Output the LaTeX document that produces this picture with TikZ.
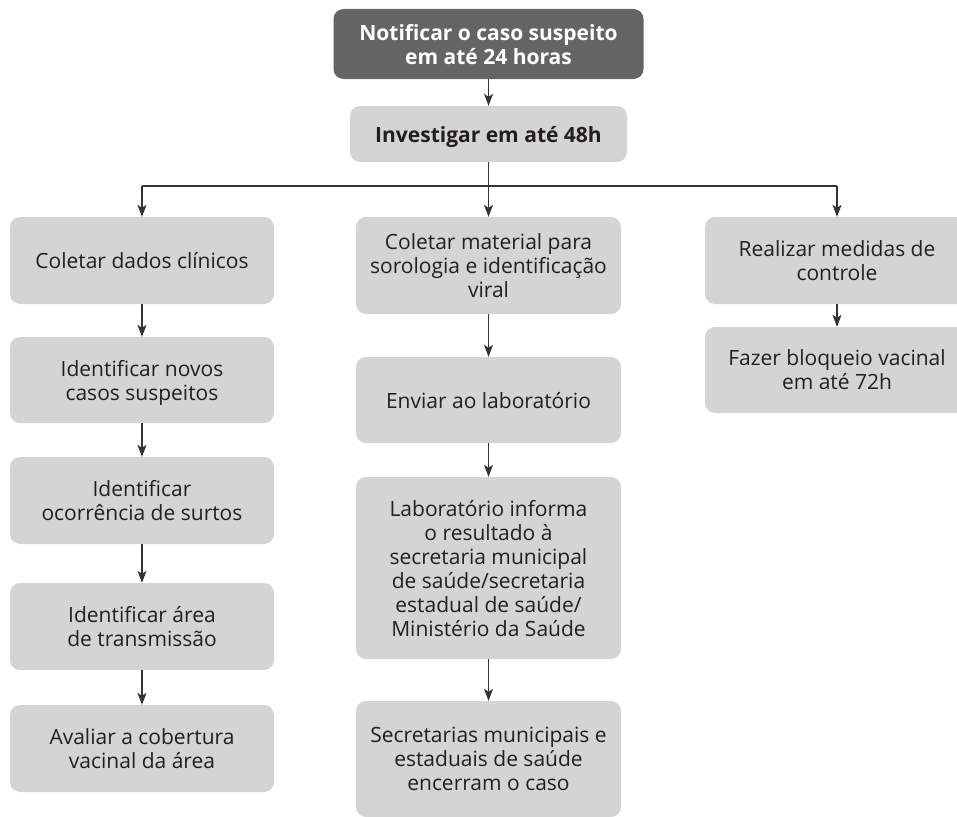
\documentclass[tikz,border=0pt]{standalone}
\usepackage{fontspec}
\setmainfont{Open Sans}
\usetikzlibrary{arrows.meta}

\definecolor{boxgray}{HTML}{D4D4D4}
\definecolor{topgray}{HTML}{646464}
\definecolor{textdark}{HTML}{231F20}
\definecolor{linegray}{HTML}{333333}

\begin{document}
\begin{tikzpicture}[
            x = 1pt, y = -1pt,
            every node/.style={text depth=0pt, align=center, font=\fontsize{21}{24}\selectfont},
            stepbox/.style={fill=boxgray, text=textdark, rounded corners=10pt, inner sep=0pt,
                minimum width=264pt},
            topbox/.style={stepbox, fill=topgray, text=white, font=\bfseries\fontsize{21}{24}\selectfont},
            line/.style={draw=linegray, line width=1.2pt},
            arrow/.style={line, -{Stealth[length=12pt, width=9pt, inset=3pt]}},
            ]

        \useasboundingbox (0, 0) rectangle (957, 816);
        \clip (0, 0) rectangle (957, 816);

        \node[topbox, minimum width=310pt, minimum height=70pt] (notificar) at (488.5, 44) {Notificar o caso suspeito\\em até 24 horas};
        \node[stepbox, minimum width=277pt, minimum height=56pt, font=\bfseries\fontsize{21}{24}\selectfont] (investigar) at (488.5, 134) {Investigar em até 48h};

        % left column
        \node[stepbox, minimum height=87pt] (dados) at (142, 260.5) {Coletar dados clínicos};
        \node[stepbox, minimum height=86pt] (novos) at (142, 380) {Identificar novos\\casos suspeitos};
        \node[stepbox, minimum height=87pt] (surtos) at (142, 500.5) {Identificar\\ocorrência de surtos};
        \node[stepbox, minimum height=87pt] (area) at (142, 626.5) {Identificar área\\de transmissão};
        \node[stepbox, minimum height=87pt] (cobertura) at (142, 748.5) {Avaliar a cobertura\\vacinal da área};

        % middle column
        \node[stepbox, minimum width=265pt, minimum height=97pt] (material) at (488.5, 265.5) {Coletar material para\\sorologia e identificação\\viral};
        \node[stepbox, minimum width=265pt, minimum height=86pt] (enviar) at (488.5, 400) {Enviar ao laboratório};
        \node[stepbox, minimum width=265pt, minimum height=182pt] (informa) at (488.5, 568) {Laboratório informa\\o resultado à\\secretaria municipal\\de saúde/secretaria\\estadual de saúde/\\Ministério da Saúde};
        \node[stepbox, minimum width=265pt, minimum height=116pt] (encerram) at (488.5, 759) {Secretarias municipais e\\estaduais de saúde\\encerram o caso};

        % right column
        \node[stepbox, minimum height=87pt] (medidas) at (837, 260.5) {Realizar medidas de\\controle};
        \node[stepbox, minimum height=86pt] (bloqueio) at (837, 370) {Fazer bloqueio vacinal\\em até 72h};

        \coordinate (lsplit) at (142, 186);
        \coordinate (rsplit) at (837, 186);

        \draw[arrow] (notificar) -- (investigar);
        \draw[line] (lsplit) -- (rsplit);
        \draw[arrow] (investigar) -- (material);
        \draw[arrow] (lsplit) -- (dados);
        \draw[arrow] (rsplit) -- (medidas);

        \foreach \a/\b in {dados/novos, novos/surtos, surtos/area, area/cobertura,
                material/enviar, enviar/informa, informa/encerram, medidas/bloqueio}
            \draw[arrow] (\a) -- (\b);
    \end{tikzpicture}
\end{document}
